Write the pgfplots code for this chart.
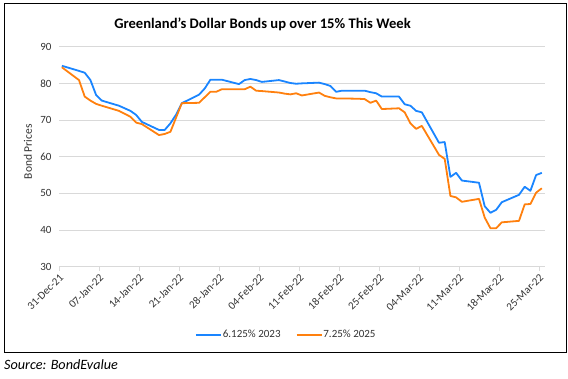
\documentclass[border=0pt]{standalone}
\usepackage{fontspec}
\setmainfont{Carlito}
\usepackage{pgfplots}
\usepackage{pgfplotstable}
\pgfplotsset{compat=1.18}
\definecolor{bblue}{RGB}{26,133,255}
\definecolor{borange}{RGB}{255,128,14}
\definecolor{gridgray}{RGB}{217,217,217}
\definecolor{txtgray}{RGB}{50,50,50}

\pgfplotstableread{
day val
0 84.8
3 83.4
4 82.9
5 80.9
6 76.8
7 75.3
10 73.9
11 73.2
12 72.5
13 71.4
14 69.5
17 67.3
18 67.3
19 69.1
20 71.5
21 74.6
24 76.9
25 78.6
26 81.0
27 81.0
28 81.0
31 79.8
32 80.9
33 81.2
34 80.9
35 80.4
38 80.9
39 80.5
40 80.1
41 79.9
42 80.0
45 80.2
46 79.8
47 79.3
48 77.7
49 78.0
52 78.0
53 78.0
54 77.6
55 77.3
56 76.4
59 76.4
60 74.3
61 73.9
62 72.5
63 72.1
66 63.8
67 64.0
68 54.5
69 55.6
70 53.5
73 52.9
74 46.5
75 44.7
76 45.5
77 47.6
80 49.6
81 51.8
82 50.7
83 55.0
84 55.6
}\bondA

\pgfplotstableread{
day val
0 84.4
3 80.9
4 76.4
5 75.3
6 74.4
7 73.9
10 72.5
11 71.7
12 70.9
13 69.3
14 68.9
17 65.9
18 66.2
19 66.8
20 70.7
21 74.6
24 74.7
25 76.2
26 77.7
27 77.7
28 78.4
31 78.4
32 78.4
33 79.1
34 78.0
35 77.9
38 77.5
39 77.2
40 77.0
41 77.3
42 76.7
45 77.5
46 76.6
47 76.2
48 75.9
49 75.9
52 75.8
53 75.7
54 74.7
55 75.3
56 73.0
59 73.2
60 72.1
61 69.1
62 67.6
63 68.4
66 60.5
67 59.4
68 49.3
69 48.9
70 47.7
73 48.5
74 43.4
75 40.5
76 40.5
77 42.1
80 42.5
81 47.0
82 47.1
83 50.2
84 51.4
}\bondB

\begin{document}
\begin{tikzpicture}
\path[use as bounding box] (0pt,0pt) rectangle (568pt,378pt);
\draw[line width=0.9pt] (4.5pt,26pt) rectangle (566.5pt,375pt);
\node[font=\bfseries\fontsize{14.6}{16}\selectfont, text=black] at (262.5pt,354pt) {Greenland's Dollar Bonds up over 15\% This Week};
\node[rotate=90, font=\fontsize{11.5}{13}\selectfont, text=txtgray] at (28pt,226.3pt) {Bond Prices};
\node[anchor=west, font=\itshape\fontsize{14.2}{16}\selectfont, inner sep=0pt] at (4pt,13pt) {Source: BondEvalue};
\begin{axis}[
  at={(59pt,111.3pt)}, anchor=south west,
  scale only axis, width=485.7pt, height=220pt,
  xmin=-0.5, xmax=84.5, ymin=30, ymax=90,
  axis line style={draw=none},
  ymajorgrids, grid style={gridgray, line width=0.8pt},
  ytick={30,40,...,90}, ytick style={draw=none},
  xtick={-0.5,6.5,...,83.5},
  xticklabels={31-Dec-21,07-Jan-22,14-Jan-22,21-Jan-22,28-Jan-22,04-Feb-22,11-Feb-22,18-Feb-22,25-Feb-22,04-Mar-22,11-Mar-22,18-Mar-22,25-Mar-22},
  xtick pos=bottom, xtick style={gridgray, line width=0.8pt},
  major tick length=4pt, tick align=outside,
  /pgf/number format/assume math mode=true,
  x tick label style={rotate=45, anchor=north east, font=\fontsize{11}{13}\selectfont, text=txtgray, inner sep=1.5pt},
  y tick label style={font=\fontsize{11}{13}\selectfont, text=txtgray},
  legend style={at={(0.467,-0.31)}, anchor=center, draw=none, fill=none,
    font=\fontsize{11}{13}\selectfont, text=txtgray,
    nodes={inner sep=1pt},
    /tikz/every even column/.append style={column sep=14pt}},
  legend columns=2,
  legend image code/.code={\draw[#1, line width=1.8pt] (0pt,0pt) -- (25pt,0pt);},
]
\addplot[bblue, line width=1.8pt, line join=round] table[x=day, y=val] {\bondA};
\addlegendentry{6.125\% 2023}
\addplot[borange, line width=1.8pt, line join=round] table[x=day, y=val] {\bondB};
\addlegendentry{7.25\% 2025}
\end{axis}
\end{tikzpicture}
\end{document}
